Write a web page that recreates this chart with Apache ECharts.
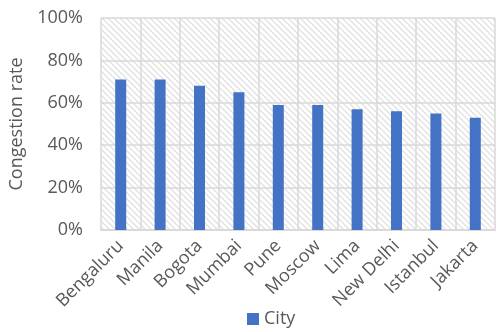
<!DOCTYPE html>
<html>
<head>
<meta charset="utf-8">
<script src="https://cdn.jsdelivr.net/npm/echarts@6/dist/echarts.min.js"></script>
<style>
html, body { margin: 0; padding: 0; background: #fff; }
#main { width: 497px; height: 332px; }
</style>
</head>
<body>
<div id="main"></div>
<script>
// data
var cities = ['Bengaluru', 'Manila', 'Bogota', 'Mumbai', 'Pune', 'Moscow', 'Lima', 'New Delhi', 'Istanbul', 'Jakarta'];
var congestion = [71, 71, 68, 65, 59, 59, 57, 56, 55, 53];
var yTicks = [0, 20, 40, 60, 80, 100];

// diagonal hatch for the plot area
var tile = document.createElement('canvas');
tile.width = 6;
tile.height = 6;
var ctx = tile.getContext('2d');
ctx.fillStyle = '#ffffff';
ctx.fillRect(0, 0, 6, 6);
ctx.strokeStyle = '#e2e2e2';
ctx.lineWidth = 1.4;
ctx.beginPath();
ctx.moveTo(-1, -1); ctx.lineTo(7, 7);
ctx.moveTo(-1, 5); ctx.lineTo(1, 7);
ctx.moveTo(5, -1); ctx.lineTo(7, 1);
ctx.stroke();

var font = '"Open Sans", sans-serif';
var myChart = echarts.init(document.getElementById('main'));

var option = {
    animation: false,
    grid: {
        left: 101,
        right: 2,
        top: 18,
        bottom: 102,
        show: true,
        borderWidth: 0,
        backgroundColor: { image: tile, repeat: 'repeat' }
    },
    legend: {
        data: ['City'],
        bottom: -1,
        left: 242,
        itemWidth: 12,
        itemHeight: 12,
        itemGap: 4,
        icon: 'rect',
        textStyle: { color: '#595959', fontSize: 18, fontFamily: font }
    },
    xAxis: {
        type: 'category',
        data: cities,
        axisLine: { show: true, lineStyle: { color: '#d9d9d9', width: 2 } },
        axisTick: { show: false },
        splitLine: { show: true, interval: 0, lineStyle: { color: '#d9d9d9', width: 1.5 } },
        axisLabel: {
            interval: 0,
            rotate: 45,
            margin: 13,
            color: '#595959',
            fontSize: 18,
            fontFamily: font
        }
    },
    yAxis: {
        type: 'value',
        min: 0,
        max: 100,
        interval: 20,
        name: 'Congestion rate',
        nameLocation: 'middle',
        nameGap: 70,
        nameTextStyle: { color: '#595959', fontSize: 18, fontFamily: font },
        axisLine: { show: false },
        axisTick: { show: false },
        splitLine: { lineStyle: { color: '#d9d9d9', width: 1.5 } },
        axisLabel: {
            margin: 18,
            color: '#595959',
            fontSize: 18,
            fontFamily: font,
            formatter: function (v) { return yTicks.indexOf(v) >= 0 ? v + '%' : ''; }
        }
    },
    series: [
        {
            name: 'City',
            type: 'bar',
            data: congestion,
            barWidth: 11,
            itemStyle: { color: '#4472c4' }
        }
    ]
};

myChart.setOption(option);
window.onresize = myChart.resize;
</script>
</body>
</html>
